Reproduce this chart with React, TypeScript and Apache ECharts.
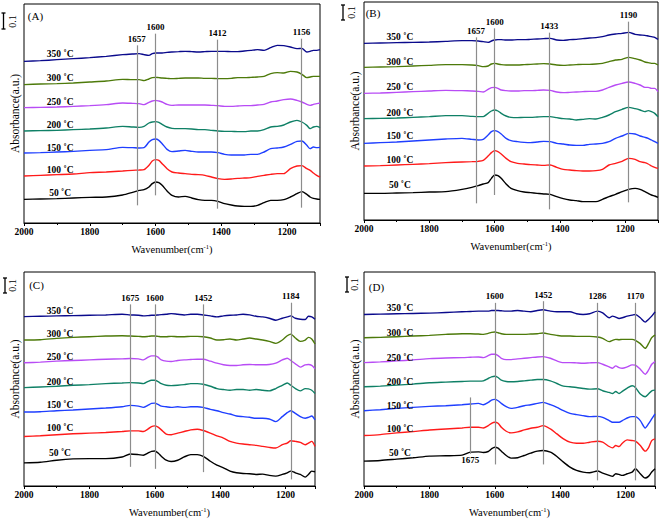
import React, { useEffect, useRef } from 'react';
import * as echarts from 'echarts';

const FONT = '"Liberation Serif", "Times New Roman", serif';

// ---------- wavenumber grids ----------
const wnAB = [2000,1950,1900,1850,1800,1750,1700,1670,1650,1635,1620,1610,1600,1590,1580,1565,1550,1530,1510,1490,1470,1450,1430,1410,1390,1370,1350,1330,1310,1290,1270,1250,1230,1210,1190,1170,1155,1140,1130,1120,1110,1100];
const wnC = [2000,1950,1900,1850,1800,1750,1700,1675,1650,1635,1620,1610,1600,1590,1580,1565,1550,1530,1510,1490,1470,1452,1430,1410,1390,1370,1350,1330,1310,1290,1270,1250,1230,1210,1195,1184,1170,1155,1140,1130,1120,1110];
const wnD = [2000,1950,1900,1850,1800,1750,1700,1675,1650,1635,1620,1610,1600,1590,1580,1565,1550,1530,1510,1490,1470,1452,1430,1410,1390,1370,1350,1330,1310,1286,1270,1250,1240,1230,1220,1210,1195,1180,1170,1155,1140,1130,1120,1110];

const temps = ['50 ˚C', '100 ˚C', '150 ˚C', '200 ˚C', '250 ˚C', '300 ˚C', '350 ˚C'];
const colors = ['#000000', '#ff1a1a', '#1f3fff', '#0f8066', '#b84cf5', '#4d7a0a', '#0a0a8c'];

// ---------- panel A ----------
const a50 = [.142,.144,.146,.150,.154,.156,.168,.184,.196,.200,.216,.236,.246,.242,.226,.192,.166,.156,.160,.150,.140,.136,.136,.130,.116,.108,.102,.100,.100,.106,.122,.136,.136,.140,.156,.176,.188,.172,.156,.148,.144,.142];
const a100 = [.282,.286,.290,.294,.302,.306,.312,.316,.318,.320,.346,.372,.380,.376,.356,.326,.306,.300,.296,.292,.290,.286,.276,.266,.262,.264,.268,.270,.272,.280,.286,.292,.296,.296,.326,.342,.344,.326,.316,.300,.286,.276];
const a150 = [.420,.422,.426,.430,.436,.440,.454,.452,.450,.452,.486,.500,.504,.496,.476,.442,.428,.432,.436,.430,.426,.426,.426,.422,.412,.408,.408,.408,.412,.412,.426,.446,.450,.456,.472,.490,.492,.466,.446,.456,.452,.454];
const a200 = [.552,.554,.556,.560,.564,.570,.580,.576,.574,.580,.600,.606,.608,.604,.592,.576,.568,.566,.566,.564,.560,.560,.556,.552,.550,.550,.548,.548,.552,.552,.560,.576,.580,.588,.606,.616,.606,.586,.566,.576,.580,.572];
const a250 = [.692,.694,.696,.700,.704,.710,.720,.718,.716,.710,.724,.732,.736,.732,.726,.712,.706,.708,.708,.708,.708,.708,.706,.704,.700,.700,.702,.704,.704,.708,.712,.726,.732,.740,.744,.736,.726,.712,.706,.712,.716,.720];
const a300 = [.830,.834,.836,.840,.846,.852,.862,.860,.860,.854,.864,.872,.874,.872,.870,.868,.866,.868,.870,.870,.870,.868,.868,.866,.866,.868,.872,.872,.874,.876,.880,.896,.902,.900,.910,.906,.892,.872,.876,.880,.880,.880];
const a350 = [.970,.974,.980,.986,.992,1.000,1.010,1.014,1.016,1.010,1.006,1.016,1.020,1.020,1.020,1.024,1.026,1.028,1.030,1.028,1.026,1.028,1.030,1.030,1.030,1.028,1.028,1.032,1.036,1.040,1.036,1.052,1.066,1.064,1.056,1.046,1.048,1.026,1.030,1.036,1.036,1.040];

// ---------- panel B ----------
const b50 = [.160,.160,.162,.164,.168,.170,.184,.196,.206,.216,.224,.250,.270,.266,.250,.216,.190,.176,.168,.164,.160,.156,.154,.140,.128,.120,.116,.110,.110,.110,.124,.140,.154,.170,.184,.190,.184,.170,.160,.150,.144,.136];
const b100 = [.324,.326,.330,.334,.338,.344,.348,.350,.352,.358,.384,.404,.416,.410,.396,.370,.350,.340,.336,.332,.330,.328,.330,.316,.304,.300,.296,.294,.294,.296,.304,.330,.340,.352,.370,.364,.350,.344,.336,.324,.316,.310];
const b150 = [.460,.464,.468,.474,.480,.486,.490,.484,.480,.484,.510,.530,.536,.530,.516,.490,.476,.470,.466,.464,.468,.472,.470,.460,.456,.450,.448,.448,.454,.456,.460,.470,.490,.504,.520,.516,.504,.496,.490,.480,.470,.460];
const b200 = [.608,.610,.612,.616,.620,.626,.626,.622,.620,.620,.640,.654,.660,.654,.640,.624,.616,.614,.616,.616,.618,.620,.620,.614,.608,.606,.600,.604,.608,.606,.616,.630,.650,.664,.676,.668,.660,.650,.656,.650,.640,.620];
const b250 = [.760,.762,.766,.770,.774,.778,.776,.774,.772,.768,.784,.794,.796,.790,.780,.776,.774,.774,.776,.776,.778,.780,.778,.768,.764,.766,.768,.770,.772,.772,.780,.796,.810,.820,.828,.820,.810,.796,.796,.790,.790,.770];
const b300 = [.916,.918,.920,.924,.928,.932,.932,.930,.926,.920,.924,.936,.940,.936,.932,.930,.930,.930,.932,.934,.936,.938,.936,.930,.928,.930,.932,.934,.934,.936,.940,.950,.960,.964,.976,.968,.960,.948,.944,.940,.940,.930];
const b350 = [1.060,1.062,1.064,1.066,1.068,1.072,1.076,1.076,1.074,1.070,1.066,1.074,1.080,1.082,1.082,1.080,1.080,1.082,1.082,1.084,1.086,1.088,1.090,1.080,1.078,1.082,1.084,1.088,1.092,1.094,1.100,1.110,1.116,1.120,1.126,1.114,1.110,1.108,1.104,1.100,1.096,1.084];

// ---------- panel C ----------
const c50 = [.140,.144,.156,.164,.166,.166,.176,.194,.190,.186,.200,.210,.212,.200,.180,.156,.148,.156,.176,.190,.190,.180,.150,.126,.110,.090,.080,.076,.074,.070,.072,.064,.060,.070,.080,.090,.080,.070,.054,.070,.090,.086];
const c100 = [.300,.304,.310,.316,.320,.324,.330,.334,.334,.330,.346,.360,.364,.356,.340,.314,.310,.320,.330,.340,.344,.336,.320,.304,.290,.270,.260,.254,.250,.246,.240,.234,.230,.250,.260,.274,.270,.264,.250,.260,.270,.240];
const c150 = [.448,.450,.456,.460,.466,.472,.480,.488,.484,.476,.490,.500,.502,.494,.484,.480,.476,.480,.476,.480,.480,.476,.464,.456,.444,.436,.424,.420,.416,.410,.410,.406,.390,.420,.444,.456,.440,.420,.410,.416,.424,.400];
const c200 = [.596,.600,.604,.610,.614,.620,.624,.626,.624,.620,.634,.640,.640,.632,.620,.610,.608,.610,.614,.620,.620,.616,.604,.590,.584,.580,.584,.584,.580,.584,.580,.576,.590,.610,.624,.610,.590,.576,.590,.588,.580,.560];
const c250 = [.746,.750,.756,.760,.764,.768,.770,.772,.770,.764,.780,.788,.788,.780,.764,.756,.754,.760,.764,.766,.768,.768,.756,.744,.734,.730,.730,.734,.736,.734,.734,.736,.744,.764,.774,.760,.740,.720,.734,.736,.730,.710];
const c300 = [.884,.886,.894,.900,.904,.908,.910,.908,.906,.904,.906,.908,.908,.906,.904,.904,.906,.904,.904,.906,.906,.904,.896,.884,.886,.890,.884,.890,.896,.890,.884,.876,.864,.884,.910,.920,.896,.876,.884,.900,.890,.860];
const c350 = [1.026,1.028,1.030,1.032,1.034,1.036,1.040,1.036,1.034,1.030,1.032,1.034,1.034,1.036,1.038,1.040,1.044,1.040,1.036,1.040,1.040,1.036,1.030,1.024,1.030,1.034,1.036,1.040,1.036,1.028,1.024,1.016,1.004,1.016,1.024,1.030,1.016,1.010,1.008,1.028,1.024,1.010];

// ---------- panel D ----------
const d50 = [.150,.154,.162,.170,.180,.182,.186,.204,.206,.202,.208,.224,.234,.228,.210,.184,.168,.170,.184,.198,.210,.214,.204,.178,.144,.114,.094,.084,.080,.090,.078,.064,.058,.074,.070,.064,.074,.084,.104,.074,.048,.058,.084,.104];
const d100 = [.304,.310,.320,.328,.338,.344,.350,.354,.354,.350,.364,.378,.384,.378,.354,.330,.320,.326,.338,.348,.354,.364,.344,.314,.284,.264,.258,.258,.264,.270,.264,.238,.230,.244,.238,.258,.278,.274,.270,.244,.210,.230,.274,.284];
const d150 = [.454,.460,.468,.474,.480,.484,.490,.494,.498,.490,.504,.518,.522,.514,.498,.478,.468,.474,.484,.490,.498,.504,.490,.474,.454,.438,.430,.424,.418,.420,.414,.394,.384,.384,.384,.394,.410,.418,.418,.394,.350,.374,.404,.434];
const d200 = [.598,.602,.608,.614,.622,.626,.630,.632,.632,.634,.648,.658,.662,.654,.638,.630,.628,.630,.634,.638,.642,.642,.634,.618,.602,.598,.594,.588,.584,.586,.574,.564,.558,.570,.558,.570,.590,.604,.594,.554,.538,.554,.574,.578];
const d250 = [.744,.748,.754,.760,.768,.772,.774,.776,.778,.774,.786,.794,.794,.786,.770,.762,.762,.766,.770,.774,.778,.780,.770,.754,.744,.744,.742,.740,.742,.744,.734,.718,.710,.724,.714,.710,.718,.730,.728,.704,.674,.698,.734,.750];
const d300 = [.894,.896,.900,.904,.908,.914,.918,.918,.916,.914,.920,.926,.928,.924,.918,.914,.914,.914,.914,.916,.918,.922,.914,.908,.904,.904,.902,.902,.902,.898,.890,.870,.878,.884,.882,.884,.884,.884,.878,.858,.830,.858,.894,.910];
const d350 = [1.034,1.036,1.038,1.040,1.042,1.046,1.050,1.052,1.054,1.054,1.054,1.058,1.058,1.058,1.056,1.054,1.054,1.058,1.054,1.050,1.058,1.062,1.054,1.050,1.050,1.050,1.038,1.034,1.038,1.054,1.044,1.014,1.024,1.018,1.010,1.014,1.024,1.030,1.034,1.014,.988,1.004,1.024,1.050];

// ---------- annotations (data space) ----------
const labelX = 1890;
const labelYA = [0.180, 0.316, 0.450, 0.586, 0.726, 0.870, 1.016];
const labelYB = [0.210, 0.360, 0.504, 0.644, 0.800, 0.950, 1.096];
const labelYC = [0.200, 0.350, 0.490, 0.630, 0.784, 0.920, 1.060];
const labelYD = [0.198, 0.344, 0.484, 0.628, 0.774, 0.920, 1.074];

const peaksA = [1657, 1600, 1412, 1156];
const peakFromA = [0.106, 0.166, 0.086, 0.092];
const peakToA = [1.066, 1.136, 1.100, 1.106];
const peaksB = [1657, 1600, 1433, 1190];
const peakFromB = [0.100, 0.150, 0.064, 0.106];
const peakToB = [1.096, 1.150, 1.124, 1.190];
const peaksC = [1675, 1600, 1452, 1184];
const peakFromC = [0.116, 0.104, 0.084, 0.040];
const peakToC = [1.100, 1.100, 1.100, 1.110];
const peaksD = [1675, 1600, 1452, 1286, 1170];
const peakFromD = [0.534, 0.130, 0.130, 0.034, 0.034];
const peakToD = [0.194, 1.104, 1.114, 1.104, 1.104];

const panels = [
  { name: '(A)', wn: wnAB, series: [a50, a100, a150, a200, a250, a300, a350], labelY: labelYA, peaks: peaksA, from: peakFromA, to: peakToA, grid: { left: 24, top: 4, width: 296, height: 219 }, xmin: 1100, ymax: 1.314 },
  { name: '(B)', wn: wnAB, series: [b50, b100, b150, b200, b250, b300, b350], labelY: labelYB, peaks: peaksB, from: peakFromB, to: peakToB, grid: { left: 364, top: 2, width: 295, height: 218 }, xmin: 1100, ymax: 1.308 },
  { name: '(C)', wn: wnC, series: [c50, c100, c150, c200, c250, c300, c350], labelY: labelYC, peaks: peaksC, from: peakFromC, to: peakToC, grid: { left: 24, top: 272, width: 291, height: 216 }, xmin: 1110, ymax: 1.296 },
  { name: '(D)', wn: wnD, series: [d50, d100, d150, d200, d250, d300, d350], labelY: labelYD, peaks: peaksD, from: peakFromD, to: peakToD, grid: { left: 364, top: 272, width: 291, height: 215 }, xmin: 1110, ymax: 1.29 },
];

// pixel placement of decorations
const panelTag = [
  { x: 35.5, y: 15.5 }, { x: 373, y: 12.5 }, { x: 36.5, y: 285 }, { x: 376.5, y: 287 },
];
const scaleBars = [
  { x: 3.5, y1: 13, y2: 29, tx: 12, ty: 21.5 },
  { x: 343, y1: 5, y2: 20, tx: 351, ty: 12.5 },
  { x: 5, y1: 278, y2: 293, tx: 12.5, ty: 285.5 },
  { x: 347, y1: 277, y2: 292, tx: 354.5, ty: 284.5 },
];

function buildOption() {
  const grid: any[] = [];
  const xAxis: any[] = [];
  const yAxis: any[] = [];
  const series: any[] = [];
  const graphic: any[] = [];

  panels.forEach((p, pi) => {
    grid.push({ ...p.grid, show: true, borderColor: '#000', borderWidth: 1, backgroundColor: 'transparent' });
    xAxis.push({
      gridIndex: pi, type: 'value', min: p.xmin, max: 2000, inverse: true, splitNumber: 5,
      axisLine: { show: true, lineStyle: { color: '#000', width: 1 } },
      axisTick: { show: true, inside: false, length: 3, lineStyle: { color: '#000' } },
      minorTick: { show: true, splitNumber: 2, length: 2, lineStyle: { color: '#000' } },
      axisLabel: {
        color: '#000', fontFamily: FONT, fontWeight: 'bold', fontSize: 9.5, margin: 4,
        formatter: (v: number) => (v % 200 === 0 ? String(v) : ''),
      },
      splitLine: { show: false },
      name: '{n|Wavenumber(cm}{s|-1}{n|)}', nameLocation: 'middle', nameGap: 20,
      nameTextStyle: {
        color: '#000', fontFamily: FONT, fontSize: 10.5,
        rich: {
          n: { fontFamily: FONT, fontSize: 10.5, color: '#000', verticalAlign: 'bottom' },
          s: { fontFamily: FONT, fontSize: 6.5, color: '#000', verticalAlign: 'bottom', padding: [0, 0, 5, 0] },
        },
      },
    });
    yAxis.push({
      gridIndex: pi, type: 'value', min: 0, max: p.ymax, show: true,
      axisLine: { show: false }, axisTick: { show: false }, axisLabel: { show: false }, splitLine: { show: false },
      name: 'Absorbance(a.u.)', nameLocation: 'middle', nameGap: 3,
      nameTextStyle: { color: '#000', fontFamily: FONT, fontSize: 11.5 },
    });
    p.series.forEach((vals, si) => {
      const s: any = {
        type: 'line', xAxisIndex: pi, yAxisIndex: pi, name: temps[si],
        data: p.wn.map((w, i) => [w, vals[i]]),
        showSymbol: false, symbol: 'none', smooth: 0.25,
        lineStyle: { color: colors[si], width: 1.4 }, itemStyle: { color: colors[si] },
        silent: true,
        markPoint: {
          symbol: 'circle', symbolSize: 0, silent: true,
          label: { show: true, position: 'inside', formatter: temps[si], color: '#000', fontFamily: FONT, fontWeight: 'bold', fontSize: 9.5 },
          data: [{ coord: [labelX, p.labelY[si]] }],
        },
      };
      if (si === p.series.length - 1) {
        s.markLine = {
          silent: true, symbol: ['none', 'none'],
          lineStyle: { color: '#8c8c8c', width: 1.2, type: 'solid' },
          label: { show: true, position: 'end', formatter: '{b}', color: '#000', fontFamily: FONT, fontWeight: 'bold', fontSize: 9, distance: 2 },
          data: p.peaks.map((w, k) => [
            { name: String(w), coord: [w, p.from[k]] },
            { coord: [w, p.to[k]] },
          ]),
        };
      }
      series.push(s);
    });

    const t = panelTag[pi];
    graphic.push({ type: 'text', x: t.x, y: t.y, style: { text: p.name, fontFamily: FONT, fontSize: 11, fill: '#000', align: 'center', verticalAlign: 'middle' } });
    const b = scaleBars[pi];
    graphic.push({ type: 'line', shape: { x1: b.x, y1: b.y1, x2: b.x, y2: b.y2 }, style: { stroke: '#000', lineWidth: 1.3 } });
    graphic.push({ type: 'line', shape: { x1: b.x - 2, y1: b.y1, x2: b.x + 2, y2: b.y1 }, style: { stroke: '#000', lineWidth: 1.3 } });
    graphic.push({ type: 'line', shape: { x1: b.x - 2, y1: b.y2, x2: b.x + 2, y2: b.y2 }, style: { stroke: '#000', lineWidth: 1.3 } });
    graphic.push({ type: 'text', x: b.tx, y: b.ty, rotation: Math.PI / 2, style: { text: '0.1', fontFamily: FONT, fontSize: 10, fill: '#000', align: 'center', verticalAlign: 'middle' } });
  });

  return { animation: false, backgroundColor: '#fff', grid, xAxis, yAxis, series, graphic };
}

export default function App() {
  const ref = useRef<HTMLDivElement>(null);
  useEffect(() => {
    const chart = echarts.init(ref.current!, null, { renderer: 'svg' });
    chart.setOption(buildOption() as any);
    return () => chart.dispose();
  }, []);
  return <div ref={ref} style={{ position: 'absolute', left: 0, top: 0, width: 661, height: 519, background: '#fff' }} />;
}
